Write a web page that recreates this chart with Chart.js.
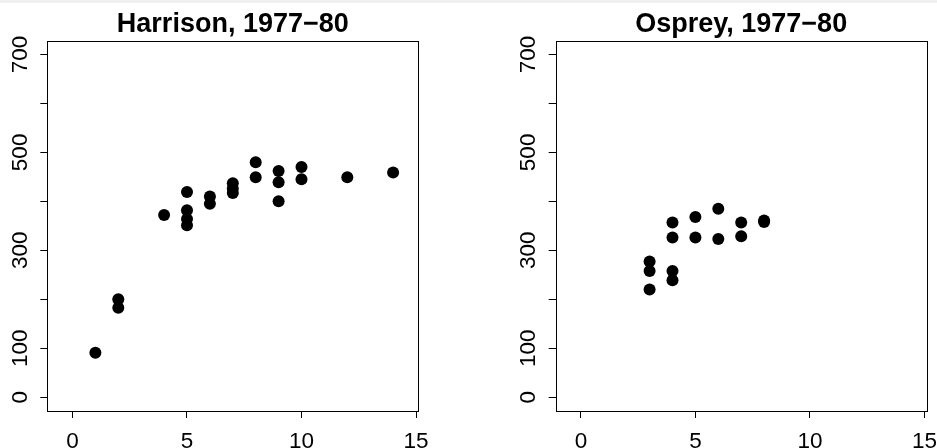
<!DOCTYPE html>
<html>
<head>
<meta charset="utf-8">
<script src="https://cdn.jsdelivr.net/npm/chart.js@4/dist/chart.umd.min.js"></script>
<style>
  html, body { margin: 0; padding: 0; background: #fff; }
  #wrap { position: relative; width: 937px; height: 448px; overflow: hidden; }
  #strip { position: absolute; left: 0; top: 0; width: 937px; height: 3px; background: #f0f0f0; z-index: 2; }
  canvas { position: absolute; top: 0; }
  #left { left: 0; }
  #right { left: 469px; }
</style>
</head>
<body>
<div id="wrap">
  <div id="strip"></div>
  <canvas id="left" width="469" height="448"></canvas>
  <canvas id="right" width="468" height="448"></canvas>
</div>
<script>
// data
const harrisonAge = [1, 2, 2, 4, 5, 5, 5, 5, 6, 6, 7, 7, 7, 8, 8, 9, 9, 9, 10, 10, 12, 14];
const harrisonLen = [91, 200, 183, 372, 419, 382, 364, 351, 410, 395, 437, 426, 417, 480, 449, 462, 439, 400, 470, 445, 449, 459];

const ospreyAge = [3, 3, 3, 4, 4, 4, 4, 5, 5, 6, 6, 7, 7, 8, 8];
const ospreyLen = [277, 258, 220, 357, 326, 258, 239, 368, 326, 385, 323, 357, 329, 361, 358];

const xTicks = [0, 5, 10, 15];
const yTicks = [0, 100, 200, 300, 400, 500, 600, 700];
const yLabels = [0, 100, 300, 500, 700];

const FONT = "'Liberation Sans', Arial, Helvetica, sans-serif";

// draws the box round the plot area
const boxPlugin = {
  id: "box",
  afterDraw(chart) {
    const a = chart.chartArea;
    const ctx = chart.ctx;
    ctx.save();
    ctx.strokeStyle = "#000";
    ctx.lineWidth = 1;
    const l = Math.round(a.left) + 0.5, t = Math.round(a.top) + 0.5;
    const r = Math.round(a.right) + 0.5, b = Math.round(a.bottom) + 0.5;
    ctx.strokeRect(l, t, r - l, b - t);
    ctx.restore();
  },
};

function makePanel(id, title, xs, ys, yAxisWidth, rightPad) {
  const pts = xs.map((x, i) => ({ x, y: ys[i] }));
  return new Chart(document.getElementById(id), {
    type: "scatter",
    data: {
      datasets: [
        {
          data: pts,
          backgroundColor: "#000",
          borderWidth: 0,
          pointRadius: 6,
          pointHoverRadius: 6,
        },
      ],
    },
    options: {
      responsive: false,
      animation: false,
      devicePixelRatio: 1,
      events: [],
      layout: { padding: { left: 0, right: rightPad, top: 0, bottom: 0 } },
      plugins: {
        legend: { display: false },
        tooltip: { enabled: false },
        title: {
          display: true,
          text: title,
          color: "#000",
          fullSize: false,
          font: { family: FONT, size: 27, weight: "bold", lineHeight: 1.1 },
          padding: { top: 10, bottom: 1 },
        },
      },
      scales: {
        x: {
          type: "linear",
          min: -1.1,
          max: 15.1,
          afterBuildTicks: (s) => { s.ticks = xTicks.map((v) => ({ value: v })); },
          afterFit: (s) => {
            s.height = 37;
            // labels may hang past the plot edge, as in the original
            s.paddingLeft = 0;
            s.paddingRight = 0;
          },
          border: { display: false },
          grid: { drawOnChartArea: false, drawTicks: true, tickLength: 7, color: "#000" },
          ticks: {
            color: "#000",
            font: { family: FONT, size: 22.5 },
            padding: 10,
            maxRotation: 0,
            autoSkip: false,
            callback: (v) => String(v),
          },
        },
        y: {
          type: "linear",
          min: -28,
          max: 728,
          afterBuildTicks: (s) => { s.ticks = yTicks.map((v) => ({ value: v })); },
          afterFit: (s) => {
            s.width = yAxisWidth;
            s.paddingTop = 0;
            s.paddingBottom = 0;
          },
          border: { display: false },
          grid: { drawOnChartArea: false, drawTicks: true, tickLength: 7, color: "#000" },
          ticks: {
            color: "#000",
            font: { family: FONT, size: 22.5 },
            padding: 1,
            minRotation: 90,
            maxRotation: 90,
            crossAlign: "center",
            autoSkip: false,
            callback: (v) => (yLabels.includes(v) ? String(v) : ""),
          },
        },
      },
    },
    plugins: [boxPlugin],
  });
}

makePanel("left", "Harrison, 1977\u221280", harrisonAge, harrisonLen, 47.3, 50.7);
makePanel("right", "Osprey, 1977\u221280", ospreyAge, ospreyLen, 86.7, 10.3);
</script>
</body>
</html>
